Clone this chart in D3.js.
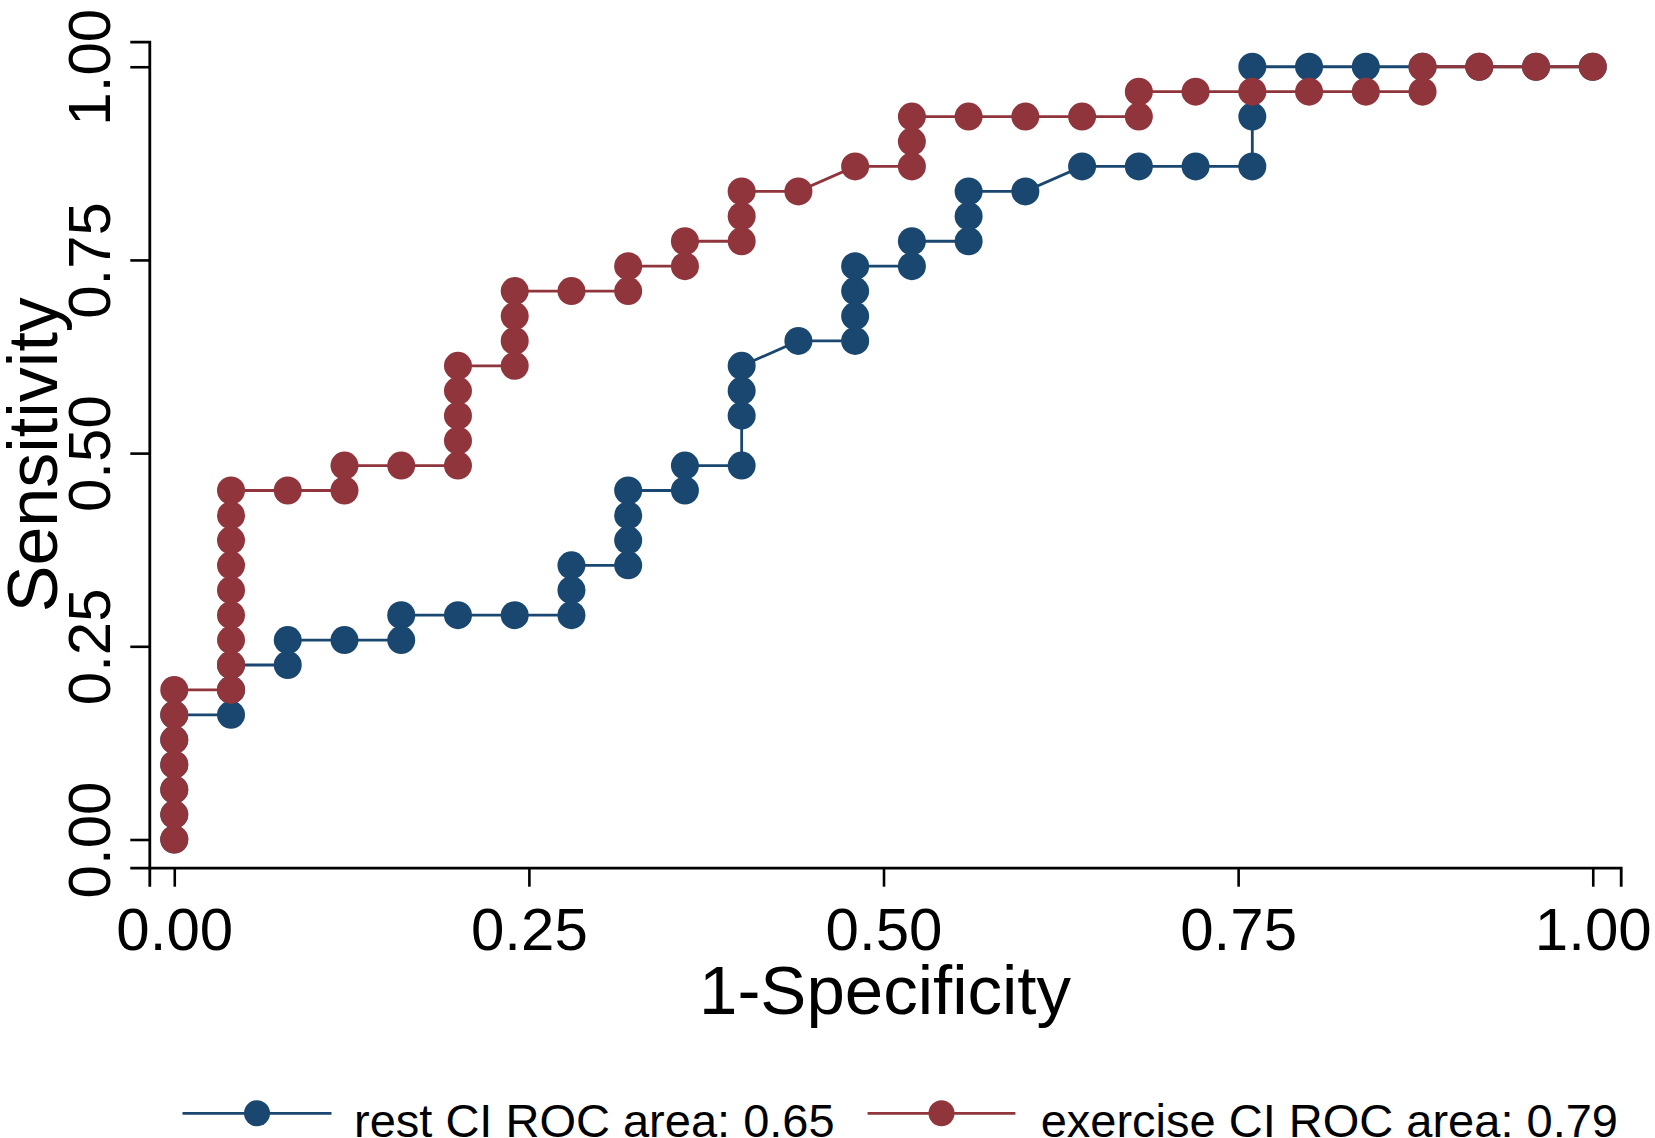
<!DOCTYPE html>
<html>
<head>
<meta charset="utf-8">
<script src="https://cdn.jsdelivr.net/npm/d3@7"></script>
<style>
  html, body { margin: 0; padding: 0; background: #ffffff; }
  svg { display: block; }
  text { font-family: "Liberation Sans", Arial, Helvetica, sans-serif; fill: #000; }
</style>
</head>
<body>
<div id="chart"></div>
<script>
// ---- data ----
const xTicks = [0, 0.25, 0.5, 0.75, 1];
const yTicks = [0, 0.25, 0.5, 0.75, 1];
const xTickLabels = ["0.00", "0.25", "0.50", "0.75", "1.00"];
const yTickLabels = ["0.00", "0.25", "0.50", "0.75", "1.00"];
const xTitle = "1-Specificity";
const yTitle = "Sensitivity";
const seriesNames = ["rest CI ROC area: 0.65", "exercise CI ROC area: 0.79"];

// rest CI: 1-specificity and sensitivity
const restFpr = [0,0,0,0,0,0, 0.04,0.04,0.04, 0.08,0.08, 0.12, 0.16,0.16, 0.20, 0.24,
  0.28,0.28,0.28, 0.32,0.32,0.32,0.32, 0.36,0.36, 0.40,0.40,0.40,0.40, 0.44,
  0.48,0.48,0.48,0.48, 0.52,0.52, 0.56,0.56,0.56, 0.60, 0.64, 0.68, 0.72,
  0.76,0.76,0.76, 0.80, 0.84, 0.88, 0.92, 0.96, 1.00];
const restSens = [0,0.0323,0.0645,0.0968,0.1290,0.1613, 0.1613,0.1935,0.2258, 0.2258,0.2581, 0.2581,
  0.2581,0.2903, 0.2903, 0.2903, 0.2903,0.3226,0.3548, 0.3548,0.3871,0.4194,0.4516,
  0.4516,0.4839, 0.4839,0.5484,0.5806,0.6129, 0.6452, 0.6452,0.6774,0.7097,0.7419,
  0.7419,0.7742, 0.7742,0.8065,0.8387, 0.8387, 0.8710, 0.8710, 0.8710,
  0.8710,0.9355,1.0000, 1.0000, 1.0000, 1.0000, 1.0000, 1.0000, 1.0000];

// exercise CI: 1-specificity and sensitivity
const exFpr = [0,0,0,0,0,0,0, 0.04,0.04,0.04,0.04,0.04,0.04,0.04,0.04,0.04, 0.08, 0.12,0.12, 0.16,
  0.20,0.20,0.20,0.20,0.20, 0.24,0.24,0.24,0.24, 0.28, 0.32,0.32, 0.36,0.36, 0.40,0.40,0.40,
  0.44, 0.48, 0.52,0.52,0.52, 0.56, 0.60, 0.64, 0.68,0.68, 0.72, 0.76, 0.80, 0.84,
  0.88,0.88, 0.92, 0.96, 1.00];
const exSens = [0,0.0323,0.0645,0.0968,0.1290,0.1613,0.1935,
  0.1935,0.2258,0.2581,0.2903,0.3226,0.3548,0.3871,0.4194,0.4516, 0.4516, 0.4516,0.4839, 0.4839,
  0.4839,0.5161,0.5484,0.5806,0.6129, 0.6129,0.6452,0.6774,0.7097, 0.7097, 0.7097,0.7419,
  0.7419,0.7742, 0.7742,0.8065,0.8387, 0.8387, 0.8710, 0.8710,0.9032,0.9355, 0.9355, 0.9355,
  0.9355, 0.9355,0.9677, 0.9677, 0.9677, 0.9677, 0.9677, 0.9677,1.0000, 1.0000, 1.0000, 1.0000];

const colors = ["#1a476f", "#90353b"];

// ---- layout ----
const W = 1655, H = 1138;
const svg = d3.select("#chart").append("svg").attr("width", W).attr("height", H);

const x = d3.scaleLinear().domain([-0.0176, 1.0197]).range([149.3, 1620.7]);
const y = d3.scaleLinear().domain([-0.0365, 1.0324]).range([867.7, 41.7]);

// axes
const gx = svg.append("g").attr("transform", `translate(0,${y(-0.0365)})`)
  .call(d3.axisBottom(x).tickValues(xTicks).tickFormat((d, i) => xTickLabels[i])
    .tickSizeOuter(0).tickSize(19));
gx.select(".domain").attr("stroke", "#000").attr("stroke-width", 2.8);
gx.selectAll(".tick line").attr("stroke", "#000").attr("stroke-width", 2.6);
gx.selectAll(".tick text").attr("y", 82.3).attr("dy", 0)
  .attr("font-size", 60).attr("font-family", '"Liberation Sans", Arial, sans-serif').attr("fill", "#000");

const gy = svg.append("g").attr("transform", `translate(${x(-0.0176)},0)`)
  .call(d3.axisLeft(y).tickValues(yTicks).tickFormat((d, i) => yTickLabels[i])
    .tickSizeOuter(0).tickSize(19));
gy.select(".domain").attr("stroke", "#000").attr("stroke-width", 2.8);
gy.selectAll(".tick line").attr("stroke", "#000").attr("stroke-width", 2.6);
gy.selectAll(".tick text")
  .attr("transform", "rotate(-90)")
  .attr("x", 0).attr("y", -39.5).attr("dy", 0)
  .attr("text-anchor", "middle")
  .attr("font-size", 60).attr("font-family", '"Liberation Sans", Arial, sans-serif').attr("fill", "#000");

// titles
svg.append("text")
  .attr("x", (x.range()[0] + x.range()[1]) / 2).attr("y", 1014)
  .attr("text-anchor", "middle").attr("font-size", 69).text(xTitle);
svg.append("text")
  .attr("transform", `translate(57,${(y.range()[0] + y.range()[1]) / 2}) rotate(-90)`)
  .attr("text-anchor", "middle").attr("font-size", 70).text(yTitle);

// series
const series = [
  { name: seriesNames[0], color: colors[0], pts: restFpr.map((v, i) => [v, restSens[i]]) },
  { name: seriesNames[1], color: colors[1], pts: exFpr.map((v, i) => [v, exSens[i]]) }
];
const line = d3.line().x(d => x(d[0])).y(d => y(d[1]));
const plot = svg.append("g");
series.forEach(s => {
  const g = plot.append("g");
  g.append("path").attr("d", line(s.pts)).attr("fill", "none")
    .attr("stroke", s.color).attr("stroke-width", 2.8);
  g.selectAll("circle").data(s.pts).enter().append("circle")
    .attr("cx", d => x(d[0])).attr("cy", d => y(d[1])).attr("r", 14)
    .attr("fill", s.color);
});

// legend
const legendY = 1113.3;
const legendItems = [
  { x1: 182.5, x2: 331.5, tx: 354 },
  { x1: 867.6, x2: 1015.4, tx: 1040.7 }
];
legendItems.forEach((it, i) => {
  const g = svg.append("g");
  g.append("line").attr("x1", it.x1).attr("x2", it.x2).attr("y1", legendY).attr("y2", legendY)
    .attr("stroke", colors[i]).attr("stroke-width", 2.8);
  g.append("circle").attr("cx", (it.x1 + it.x2) / 2).attr("cy", legendY).attr("r", 13)
    .attr("fill", colors[i]);
  g.append("text").attr("x", it.tx).attr("y", 1136.5).attr("font-size", 47).text(seriesNames[i]);
});
</script>
</body>
</html>
